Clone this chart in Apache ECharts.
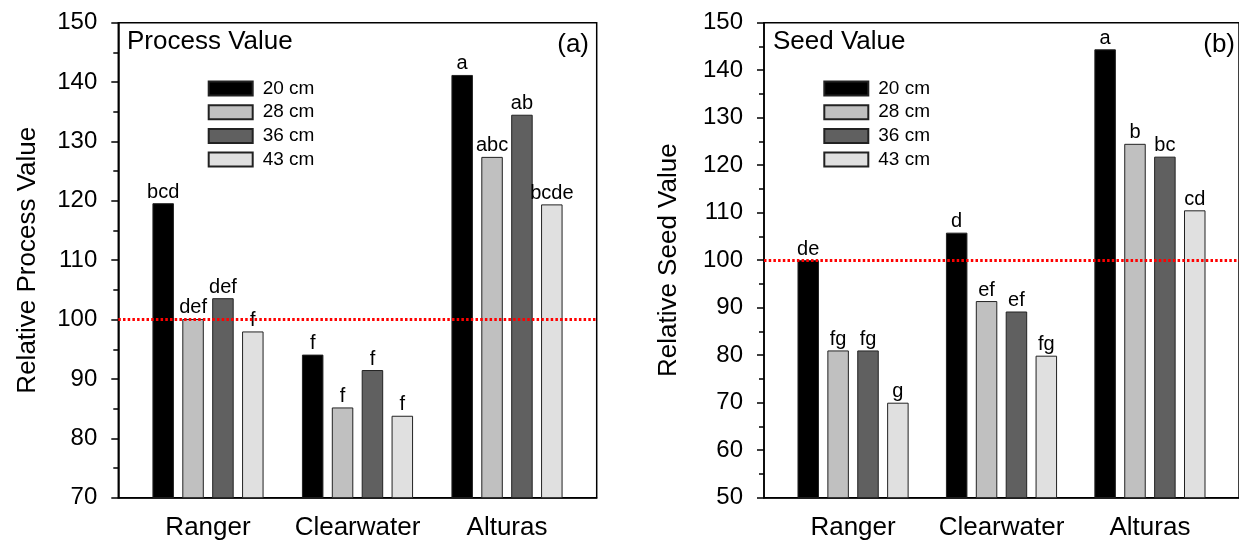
<!DOCTYPE html>
<html>
<head>
<meta charset="utf-8">
<script src="https://cdn.jsdelivr.net/npm/echarts@6/dist/echarts.min.js"></script>
<style>
  html, body { margin: 0; padding: 0; background: #fff; }
  #chart { width: 1239px; height: 541px; }
</style>
</head>
<body>
<div id="chart"></div>
<script>
  // data
  var sites = ['Ranger', 'Clearwater', 'Alturas'];
  var spacings = ['20 cm', '28 cm', '36 cm', '43 cm'];

  var processValues = [
    [119.6, 94.1, 141.2],   // 20 cm
    [100.1, 85.2, 127.4],   // 28 cm
    [103.6, 91.5, 134.5],   // 36 cm
    [98.0, 83.8, 119.4]     // 43 cm
  ];
  var processLetters = [
    ['bcd', 'f', 'a'],
    ['def', 'f', 'abc'],
    ['def', 'f', 'ab'],
    ['f', 'f', 'bcde']
  ];

  var seedValues = [
    [100.0, 105.8, 144.4],
    [81.0, 91.4, 124.5],
    [81.0, 89.2, 121.8],
    [70.0, 79.9, 110.5]
  ];
  var seedLetters = [
    ['de', 'd', 'a'],
    ['fg', 'ef', 'b'],
    ['fg', 'ef', 'bc'],
    ['g', 'fg', 'cd']
  ];

  var processTicks = { min: 70, max: 150, interval: 10 };
  var seedTicks = { min: 50, max: 150, interval: 10 };
  var siteX = [1, 2, 3];
  var reference = 100;

  var barColors = ['#000000', '#c0c0c0', '#606060', '#e0e0e0'];
  var font = 'Liberation Sans, Arial, sans-serif';

  var chart = echarts.init(document.getElementById('chart'));

  function makeSeries(values, letters, panel) {
    return values.map(function (vals, i) {
      var s = {
        name: spacings[i],
        type: 'bar',
        xAxisIndex: panel,
        yAxisIndex: panel,
        barWidth: 21.5,
        barGap: '39%',
        itemStyle: { color: barColors[i], borderColor: '#222', borderWidth: 1 },
        label: {
          show: true,
          position: 'top',
          distance: 1,
          fontFamily: font,
          fontSize: 20,
          color: '#000',
          formatter: function (p) { return letters[i][p.dataIndex]; }
        },
        data: vals.map(function (v, j) { return [siteX[j], v]; })
      };
      if (i === 0) {
        s.markLine = {
          silent: true,
          symbol: 'none',
          label: { show: false },
          lineStyle: { color: '#ff0000', type: [2.5, 2.2], width: 3 },
          data: [{ yAxis: reference }]
        };
      }
      return s;
    });
  }

  function xAxisFor(panel) {
    return {
      type: 'value',
      gridIndex: panel,
      min: 0.4,
      max: 3.6,
      axisLine: { show: true, lineStyle: { color: '#000', width: 1.5 } },
      axisTick: { show: false },
      splitLine: { show: false },
      axisLabel: {
        customValues: siteX,
        margin: 17,
        fontFamily: font,
        fontSize: 26,
        color: '#000',
        formatter: function (v) { return sites[Math.round(v) - 1]; }
      }
    };
  }

  function yAxisFor(panel, ticks, name, gap) {
    return {
      type: 'value',
      gridIndex: panel,
      min: ticks.min,
      max: ticks.max,
      interval: ticks.interval,
      name: name,
      nameLocation: 'middle',
      nameGap: gap,
      nameTextStyle: { fontFamily: font, fontSize: 26, color: '#000' },
      axisLine: { show: true, lineStyle: { color: '#000', width: 1.5 } },
      axisTick: { show: true, length: 7, lineStyle: { color: '#000', width: 1.5 } },
      minorTick: { show: true, splitNumber: 2, length: 5, lineStyle: { color: '#000', width: 1.5 } },
      splitLine: { show: false },
      axisLabel: { margin: 21, fontFamily: font, fontSize: 24, color: '#000' }
    };
  }

  var legendBase = {
    orient: 'vertical',
    top: 79,
    padding: 0,
    icon: 'rect',
    itemWidth: 44,
    itemHeight: 14,
    itemGap: 4.7,
    selectedMode: false,
    textStyle: { fontFamily: font, fontSize: 19, color: '#000', padding: [0, 0, 0, 5] },
    data: spacings
  };

  var titleText = { fontFamily: font, fontSize: 26, fontWeight: 'normal', color: '#000' };

  chart.setOption({
    backgroundColor: '#fff',
    animation: false,
    title: [
      { text: 'Process Value', left: 127, top: 29, padding: 0, textStyle: titleText },
      { text: '(a)', right: 650, top: 32, padding: 0, textStyle: titleText },
      { text: 'Seed Value', left: 773, top: 29, padding: 0, textStyle: titleText },
      { text: '(b)', right: 4, top: 32, padding: 0, textStyle: titleText }
    ],
    legend: [
      Object.assign({}, legendBase, { left: 207.7 }),
      Object.assign({}, legendBase, { left: 823.3 })
    ],
    grid: [
      { left: 118.3, top: 22.7, right: 642.3, bottom: 43.3, show: true, borderColor: '#000', borderWidth: 1.5 },
      { left: 764, top: 22.7, right: -3.5, bottom: 43.3, show: true, borderColor: '#000', borderWidth: 1.5 }
    ],
    xAxis: [xAxisFor(0), xAxisFor(1)],
    yAxis: [
      yAxisFor(0, processTicks, 'Relative Process Value', 77),
      yAxisFor(1, seedTicks, 'Relative Seed Value', 82)
    ],
    series: makeSeries(processValues, processLetters, 0).concat(makeSeries(seedValues, seedLetters, 1))
  });

  window.addEventListener('resize', function () { chart.resize(); });
</script>
</body>
</html>
